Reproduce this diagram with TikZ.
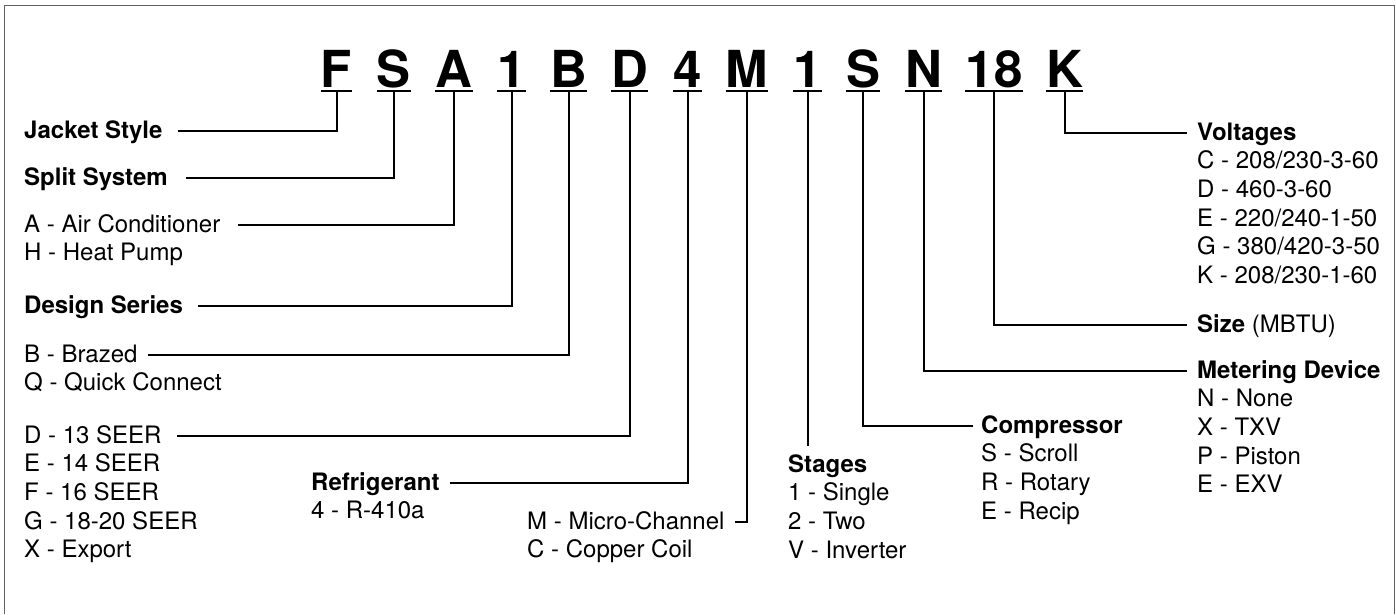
\documentclass[tikz,border=0pt]{standalone}
\usepackage{fontspec}
\setmainfont{TeX Gyre Heros}
\begin{document}
\begin{tikzpicture}[x=1pt,y=-1pt,
  code/.style={font=\fontsize{51}{51}\selectfont\bfseries, inner xsep=0pt, inner ysep=4pt, text depth=0pt, anchor=base},
  lbl/.style={font=\fontsize{24}{28.8}\selectfont, inner sep=0pt, text height=17.2pt, text depth=3.6pt, anchor=base west},
  hd/.style={lbl, font=\fontsize{24}{28.8}\selectfont\bfseries},
  conn/.style={draw=black, line width=2pt},
  uline/.style={draw=black, line width=2.2pt},
  frame/.style={draw=black!62, line width=1.5pt}]
\useasboundingbox (0,0) rectangle (1396,614);
\draw[frame] (4.5,614) -- (4.5,5.5) -- (1394.5,5.5) -- (1394.5,614);

% code letters
\node[code] (cF)  at (336.5,87) {F};
\node[code] (cS)  at (394,87)   {S};
\node[code] (cA)  at (454,87)   {A};
\node[code] (c1)  at (511.5,87) {1};
\node[code] (cB)  at (568.5,87) {B};
\node[code] (cD)  at (629.5,87) {D};
\node[code] (c4)  at (687.5,87) {4};
\node[code] (cM)  at (747,87)   {M};
\node[code] (c1b) at (807.5,87) {1};
\node[code] (cS2) at (863,87)   {S};
\node[code] (cN)  at (923.5,87) {N};
\node[code] (c18) at (994,87)   {18};
\node[code] (cK)  at (1064.5,87) {K};
\foreach \n in {cF,cS,cA,c1,cB,cD,c4,cM,c1b,cS2,cN,c18,cK}
  \draw[uline] (\n.south west) -- (\n.south east);

% left column
\node[hd]  (jacket) at (24,138)   {Jacket Style};
\node[hd]  (split)  at (24,185)   {Split System};
\node[lbl] (airc)   at (24,232)   {A - Air Conditioner};
\node[lbl] (heat)   at (24,260.7) {H - Heat Pump};
\node[hd]  (design) at (24,313)   {Design Series};
\node[lbl] (braz)   at (24,362)   {B - Brazed};
\node[lbl] (quick)  at (24,390.7) {Q - Quick Connect};
\node[lbl] (s13)    at (24,443)   {D - 13 SEER};
\node[lbl] (s14)    at (24,471.7) {E - 14 SEER};
\node[lbl] (s16)    at (24,500.4) {F - 16 SEER};
\node[lbl] (s18)    at (24,529.1) {G - 18-20 SEER};
\node[lbl] (sexp)   at (24,557.8) {X - Export};

% refrigerant, coil
\node[hd]  (refr)   at (311,490)   {Refrigerant};
\node[lbl] (r410)   at (311,518.7) {4 - R-410a};
\node[lbl] (micro)  at (527,529)   {M - Micro-Channel};
\node[lbl] (copper) at (527,557.7) {C - Copper Coil};

% stages
\node[hd]  (stages) at (788,472)   {Stages};
\node[lbl] (single) at (788,500.7) {1 - Single};
\node[lbl] (two)    at (788,529.4) {2 - Two};
\node[lbl] (inv)    at (788,558.1) {V - Inverter};
\coordinate (stend) at ([yshift=9pt]stages.north);

% compressor
\node[hd]  (comp)   at (981,433)   {Compressor};
\node[lbl] (scroll) at (981,461.7) {S - Scroll};
\node[lbl] (rotary) at (981,490.4) {R - Rotary};
\node[lbl] (recip)  at (981,519.1) {E - Recip};

% right column
\node[hd]  (volt)   at (1197,140)   {Voltages};
\node[lbl] (vC)     at (1197,168.7) {C - 208/230-3-60};
\node[lbl] (vD)     at (1197,197.4) {D - 460-3-60};
\node[lbl] (vE)     at (1197,226.1) {E - 220/240-1-50};
\node[lbl] (vG)     at (1197,254.8) {G - 380/420-3-50};
\node[lbl] (vK)     at (1197,283.5) {K - 208/230-1-60};
\node[hd]  (size)   at (1197,332)   {Size {\mdseries (MBTU)}};
\node[hd]  (meter)  at (1197,378)   {Metering Device};
\node[lbl] (mN)     at (1197,406.7) {N - None};
\node[lbl] (mX)     at (1197,435.4) {X - TXV};
\node[lbl] (mP)     at (1197,464.1) {P - Piston};
\node[lbl] (mE)     at (1197,492.8) {E - EXV};

% connectors
\draw[conn] ([xshift=15pt]jacket.east) -| (cF.south);
\draw[conn] ([xshift=18pt]split.east)  -| (cS.south);
\draw[conn] ([xshift=18pt]airc.east)   -| (cA.south);
\draw[conn] ([xshift=15pt]design.east) -| (c1.south);
\draw[conn] ([xshift=10pt]braz.east)   -| (cB.south);
\draw[conn] ([xshift=15pt]s13.east)    -| (cD.south);
\draw[conn] ([xshift=10pt]refr.east)   -| (c4.south);
\draw[conn] ([xshift=10pt]micro.east)  -| (cM.south);
\draw[conn] (c1b.south) -- (c1b.south |- stend);
\draw[conn] (cS2.south) |- ([xshift=-8pt]comp.west);
\draw[conn] (cN.south)  |- ([xshift=-10pt]meter.west);
\draw[conn] (c18.south) |- ([xshift=-10pt]size.west);
\draw[conn] (cK.south)  |- ([xshift=-10pt]volt.west);
\end{tikzpicture}
\end{document}
